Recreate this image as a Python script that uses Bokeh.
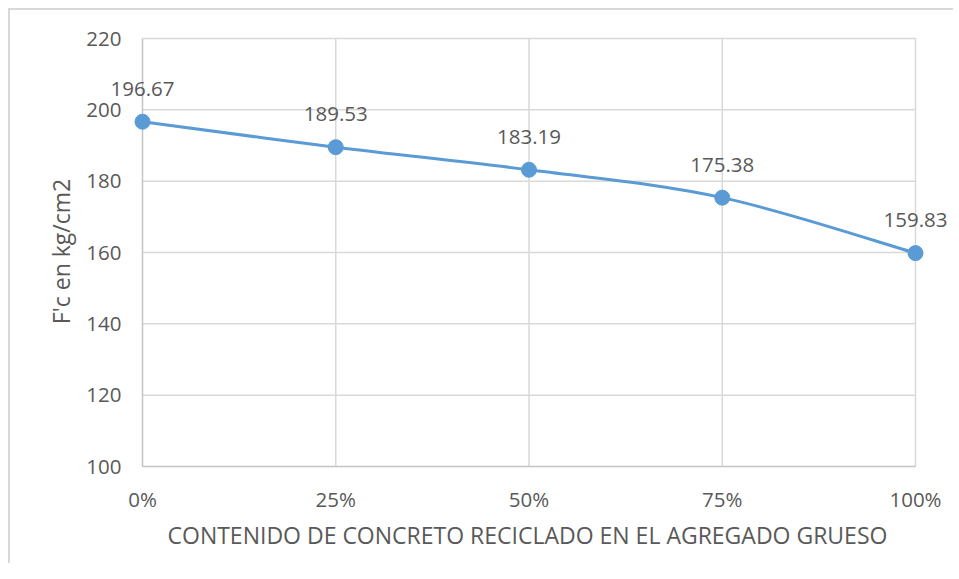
import numpy as np
from bokeh.plotting import figure
from bokeh.models import FixedTicker, ColumnDataSource, Title
from bokeh.core.properties import value
from bokeh.embed import file_html
from bokeh.resources import INLINE

x_vals = [0, 25, 50, 75, 100]
tick_labels = ["0%", "25%", "50%", "75%", "100%"]
fc_vals = [196.67, 189.53, 183.19, 175.38, 159.83]
label_texts = ["196.67", "189.53", "183.19", "175.38", "159.83"]
y_ticks = [100, 120, 140, 160, 180, 200, 220]
y_tick_labels = ["100", "120", "140", "160", "180", "200", "220"]
x_title = "CONTENIDO DE CONCRETO RECICLADO EN EL AGREGADO GRUESO"
y_title = "F'c en kg/cm2"

FONT = "Open Sans"
TXT = "#595959"
GRID = "#d9d9d9"
AXC = "#c4c4c4"
BLUE = "#5B9BD5"

# layout (page pixels): plot area and the larger, unclipped drawing frame around it
ORIG_X, ORIG_Y = 11, 10
W, H = 945, 555
PA_L, PA_R, PA_T, PA_B = 143, 916, 38, 466
FR_L, FR_R, FR_T, FR_B = 80, 950, 28, 474
xmin, xmax = x_vals[0], x_vals[-1]
ymin, ymax = y_ticks[0], y_ticks[-1]
sx = (PA_R - PA_L) / (xmax - xmin)
sy = (PA_B - PA_T) / (ymax - ymin)
x_range = (xmin - (PA_L - FR_L) / sx, xmax + (FR_R - PA_R) / sx)
y_range = (ymin - (FR_B - PA_B) / sy, ymax + (PA_T - FR_T) / sy)

p = figure(width=W, height=H, output_backend="svg", toolbar_location=None,
           x_range=x_range, y_range=y_range,
           min_border_left=FR_L - ORIG_X, min_border_right=ORIG_X + W - FR_R,
           min_border_top=FR_T - ORIG_Y, min_border_bottom=ORIG_Y + H - FR_B)
p.styles = {"border-top": "2px solid #d9d9d9", "border-left": "2px solid #d9d9d9",
            "box-sizing": "border-box", "margin-left": "8px", "margin-top": "8px"}
p.outline_line_color = None
p.background_fill_color = "white"
p.border_fill_color = "white"
p.xgrid.visible = False
p.ygrid.visible = False

p.xaxis.ticker = FixedTicker(ticks=x_vals)
p.xaxis.major_label_overrides = {x: t for x, t in zip(x_vals, tick_labels)}
p.yaxis.ticker = FixedTicker(ticks=[])
for ax in (p.xaxis, p.yaxis):
    ax.axis_line_color = None
    ax.major_tick_line_color = None
    ax.minor_tick_line_color = None
    ax.major_label_text_font = FONT
    ax.major_label_text_font_size = "20.5px"
    ax.major_label_text_color = TXT
    ax.axis_label_text_font = FONT
    ax.axis_label_text_font_size = "23px"
    ax.axis_label_text_color = TXT
    ax.axis_label_text_font_style = "normal"
p.xaxis.major_label_standoff = 4
p.yaxis.major_label_standoff = 0
p.yaxis.axis_label = y_title
p.yaxis.axis_label_standoff = 3

# x axis title, aligned to the plot area
p.add_layout(Title(text=x_title, align="left", offset=168 - FR_L, text_font=FONT,
                   text_font_size="23px", text_color=TXT, text_font_style="normal",
                   standoff=3), "below")

# gridlines
p.segment(x0=xmin, x1=xmax, y0=y_ticks[1:], y1=y_ticks[1:], line_color=GRID, line_width=1.5)
p.segment(x0=x_vals[1:], x1=x_vals[1:], y0=ymin, y1=ymax, line_color=GRID, line_width=1.5)
# axis lines
p.segment(x0=[xmin, xmin], x1=[xmax, xmin], y0=[ymin, ymin], y1=[ymin, ymax],
          line_color=AXC, line_width=1.5)

# y tick labels
p.text(x=xmin, y=y_ticks, text=y_tick_labels, text_font=value(FONT), text_font_size="20.5px",
       text_color=TXT, text_align="right", text_baseline="middle", x_offset=-21)

# smoothed line (Catmull-Rom -> Bezier) through the data points
xs = np.array(x_vals, dtype=float)
ys = np.array(fc_vals, dtype=float)
n = len(xs)
xp = np.concatenate([[xs[0]], xs, [xs[-1]]])
yp = np.concatenate([[ys[0]], ys, [ys[-1]]])
k = 1 / 6
bz = ColumnDataSource(dict(
    x0=xs[:-1], y0=ys[:-1], x1=xs[1:], y1=ys[1:],
    cx0=xs[:-1] + (xp[2:n + 1] - xp[0:n - 1]) * k,
    cy0=ys[:-1] + (yp[2:n + 1] - yp[0:n - 1]) * k,
    cx1=xs[1:] - (xp[3:n + 2] - xp[1:n]) * k,
    cy1=ys[1:] - (yp[3:n + 2] - yp[1:n]) * k,
))
p.bezier(x0="x0", y0="y0", x1="x1", y1="y1", cx0="cx0", cy0="cy0", cx1="cx1", cy1="cy1",
         source=bz, line_color=BLUE, line_width=3)
p.scatter(x_vals, fc_vals, size=15, fill_color=BLUE, line_color=BLUE)

# data labels
p.text(x=x_vals, y=fc_vals, text=label_texts, text_font=value(FONT), text_font_size="20.5px",
       text_color=TXT, text_align="center", text_baseline="bottom", y_offset=-26)

open("out.html", "w").write(file_html(p, INLINE))
